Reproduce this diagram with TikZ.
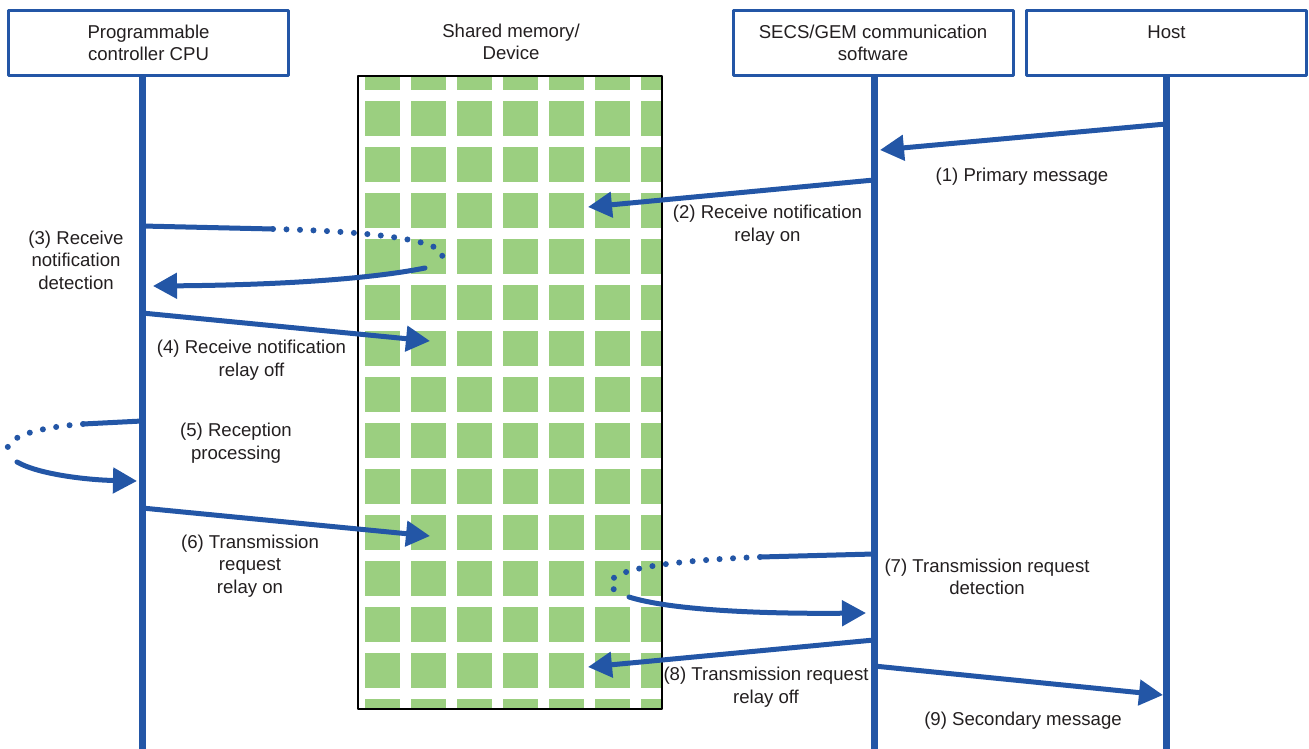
\documentclass[tikz,border=0pt]{standalone}
\usepackage{fontspec}
\setmainfont{Liberation Sans}
\usetikzlibrary{arrows.meta}

\definecolor{lineblue}{RGB}{35,86,166}
\definecolor{cellgreen}{RGB}{155,207,128}
\definecolor{textgray}{RGB}{35,31,32}

\begin{document}
\begin{tikzpicture}[x=1pt, y=-1pt, line cap=round, line join=round,
  lbl/.style={anchor=center, inner sep=0pt, align=center, text=textgray,
    font=\fontsize{18.6}{22.4}\selectfont},
  headbox/.style={lbl, draw=lineblue, fill=white, line width=3pt,
    minimum width=280pt, minimum height=65pt},
  lifeline/.style={draw=lineblue, line width=7pt, line cap=butt},
  msg/.style={draw=lineblue, line width=5pt, -{Triangle[length=24pt,width=25pt]}},
  msgline/.style={draw=lineblue, line width=5pt},
  dotline/.style={draw=lineblue, line width=6pt, line cap=round,
    dash pattern=on 0pt off 13.5pt}]

  %% ════ 共享存储区（格子）════
  \begin{scope}
    \clip (358,76) rectangle (662,709);
    \foreach \i in {0,...,6}
      \foreach \j in {0,...,14}
        \fill[cellgreen] ({365+46*\i},{55+46*\j}) rectangle +(35,35);
  \end{scope}
  \draw[black, line width=2.5pt, line cap=butt] (358,76) rectangle (662,709);

  %% ════ 各点坐标 ════
  \coordinate (cpuTop)  at (142,76);   \coordinate (cpuBot)  at (142,749);
  \coordinate (secsTop) at (874,76);   \coordinate (secsBot) at (874,749);
  \coordinate (hostTop) at (1166,76);  \coordinate (hostBot) at (1166,749);

  \coordinate (m1a) at (1166,124);  \coordinate (m1b) at (880,150);
  \coordinate (m2a) at (874,180);   \coordinate (m2b) at (588,207);
  \coordinate (m3a) at (142,226);   \coordinate (m3b) at (273,229);
  \coordinate (m3c) at (437,263);   \coordinate (m3d) at (425,268);
  \coordinate (m3e) at (153,286);
  \coordinate (m4a) at (142,313);   \coordinate (m4b) at (430,341);
  \coordinate (m5a) at (142,421);   \coordinate (m5b) at (83,424);
  \coordinate (m5c) at (11,459);    \coordinate (m5d) at (17,462);
  \coordinate (m5e) at (137,481);
  \coordinate (m6a) at (142,508);   \coordinate (m6b) at (430,536);
  \coordinate (m7a) at (874,554);   \coordinate (m7b) at (760,557);
  \coordinate (m7c) at (622,595);   \coordinate (m7d) at (629,597);
  \coordinate (m7e) at (866,613);
  \coordinate (m8a) at (874,640);   \coordinate (m8b) at (588,667);
  \coordinate (m9a) at (874,666);   \coordinate (m9b) at (1163,695);

  %% ════ 消息箭头 ════
  \draw[msg] (m1a) -- (m1b);
  \draw[msg] (m2a) -- (m2b);
  \draw[msgline] (m3a) -- (m3b);
  \draw[dotline] (m3b) .. controls (400,232) and (462,245) .. (m3c);
  \draw[msg] (m3d) .. controls (370,279) and (280,285) .. (m3e);
  \draw[msg] (m4a) -- (m4b);
  \draw[msgline] (m5a) -- (m5b);
  \draw[dotline] (m5b) .. controls (30,428) and (-5,440) .. (m5c);
  \draw[msg] (m5d) .. controls (40,475) and (90,480) .. (m5e);
  \draw[msg] (m6a) -- (m6b);
  \draw[msgline] (m7a) -- (m7b);
  \draw[dotline] (m7b) .. controls (660,561) and (580,572) .. (m7c);
  \draw[msg] (m7d) .. controls (670,610) and (760,614) .. (m7e);
  \draw[msg] (m8a) -- (m8b);
  \draw[msg] (m9a) -- (m9b);

  %% ════ 生命线 ════
  \draw[lifeline] (cpuTop) -- (cpuBot);
  \draw[lifeline] (secsTop) -- (secsBot);
  \draw[lifeline] (hostTop) -- (hostBot);

  %% ════ 表头 ════
  \node[headbox] (cpu)  at (148.5,43) {Programmable\\controller CPU};
  \node[lbl]     (shm)  at (511,42)   {Shared memory/\\Device};
  \node[headbox] (secs) at (873,43)   {SECS/GEM communication\\software};
  \node[headbox] (host) at (1166.5,43) {Host\\\phantom{H}};

  %% ════ 标签 ════
  \node[lbl] (t1) at (1022,177)  {(1) Primary message};
  \node[lbl] (t2) at (767.5,225) {(2) Receive notification\\relay on};
  \node[lbl] (t3) at (76,260)    {(3) Receive\\notification\\detection};
  \node[lbl] (t4) at (251.5,360) {(4) Receive notification\\relay off};
  \node[lbl] (t5) at (236,443)   {(5) Reception\\processing};
  \node[lbl] (t6) at (250,566)   {(6) Transmission\\request\\relay on};
  \node[lbl] (t7) at (987,577)   {(7) Transmission request\\detection};
  \node[lbl] (t8) at (766,687)   {(8) Transmission request\\relay off};
  \node[lbl] (t9) at (1023,721)  {(9) Secondary message};

  \pgfresetboundingbox
  \path[use as bounding box] (0,0) rectangle (1309,749);
\end{tikzpicture}
\end{document}
